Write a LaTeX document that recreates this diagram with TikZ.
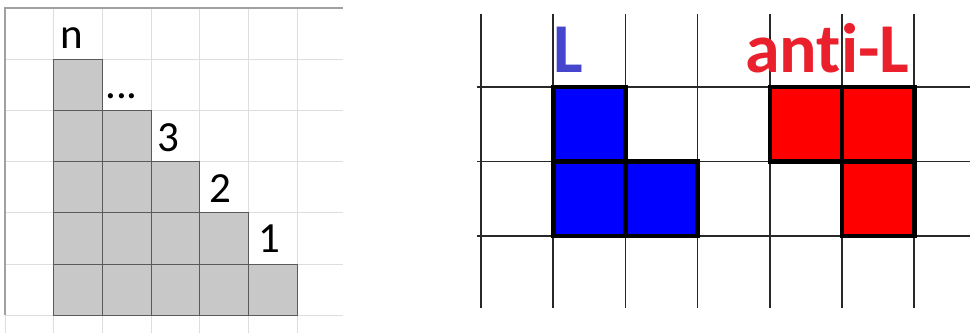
\documentclass[tikz,border=0pt]{standalone}
\usepackage{fontspec}
\setmainfont{Carlito}[Ligatures=NoCommon]
\definecolor{lightgrid}{RGB}{222,222,222}
\definecolor{bordergrid}{RGB}{160,160,160}
\definecolor{cellgray}{RGB}{200,200,200}
\definecolor{celledge}{RGB}{90,90,90}
\definecolor{darkgrid}{RGB}{40,40,40}
\definecolor{lblue}{RGB}{70,70,205}
\definecolor{lred}{RGB}{235,32,45}
\begin{document}
\begin{tikzpicture}[x=1pt,y=-1pt,
  lgrid/.style={draw=lightgrid,line width=1pt},
  lborder/.style={draw=bordergrid,line width=1.3pt},
  graycell/.style={fill=cellgray,draw=celledge,line width=0.9pt},
  rgrid/.style={draw=darkgrid,line width=1.7pt},
  piece/.style={draw=black,line width=4.6pt,line join=miter},
  numlbl/.style={anchor=base west,inner sep=0pt,font=\fontsize{43}{43}\selectfont},
  biglbl/.style={anchor=base west,inner sep=0pt,font=\fontsize{70}{70}\selectfont\bfseries}]
\useasboundingbox (0,0) rectangle (970,333);
% ---------- left panel ----------
\def\cw{48.7}\def\ch{51.2}
\foreach \i in {1,...,6} {
  \draw[lgrid] ({5+\cw*\i},8) -- ({5+\cw*\i},333);
  \draw[lgrid] (5,{8+\ch*\i}) -- (343,{8+\ch*\i});
}
\draw[lgrid] (5,315) -- (5,333);
\draw[lborder] (5,315.2) -- (5,8) -- (343,8);
\foreach \c in {1,...,5} {
  \foreach \r in {\c,...,5} {
    \draw[graycell] ({5+\cw*\c},{8+\ch*\r}) rectangle ({5+\cw*(\c+1)},{8+\ch*(\r+1)});
  }
}
\node[numlbl] (ln) at (60,48) {n};
\node[numlbl] (ldots) at (105,98) {...};
\node[numlbl] (l3) at (157,151) {3};
\node[numlbl] (l2) at (209,202) {2};
\node[numlbl] (l1) at (258,252) {1};
% ---------- right panel ----------
\def\rw{72.2}\def\rh{74.5}
\foreach \i in {0,...,6} {
  \draw[rgrid] ({481+\rw*\i},14) -- ({481+\rw*\i},308);
}
\foreach \j in {0,1,2} {
  \draw[rgrid] (477,{87+\rh*\j}) -- (970,{87+\rh*\j});
}
% L piece (blue)
\draw[piece,fill=blue] (553.2,87) rectangle (625.4,161.5);
\draw[piece,fill=blue] (553.2,161.5) rectangle (625.4,236);
\draw[piece,fill=blue] (625.4,161.5) rectangle (697.6,236);
% anti-L piece (red)
\draw[piece,fill=red] (769.8,87) rectangle (842,161.5);
\draw[piece,fill=red] (842,87) rectangle (914.2,161.5);
\draw[piece,fill=red] (842,161.5) rectangle (914.2,236);
\node[biglbl,text=lblue] (lL) at (553,72) {L};
\node[biglbl,text=lred] (lanti) at (745,72) {ant\kern0pt i-L};
\end{tikzpicture}
\end{document}
